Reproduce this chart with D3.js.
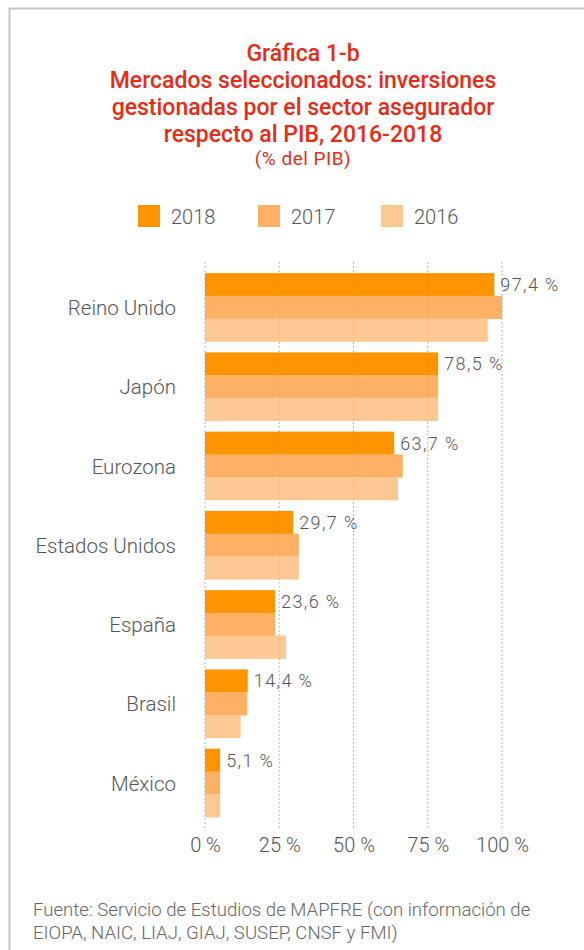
<!DOCTYPE html>
<html>
<head>
<meta charset="utf-8">
<script src="https://cdn.jsdelivr.net/npm/d3@7"></script>
<style>
  body { margin: 0; background: #fff; }
  text { font-family: Roboto, "Noto Sans", sans-serif; }
</style>
</head>
<body>
<script>
// Data
var countries = ["Reino Unido", "Japón", "Eurozona", "Estados Unidos", "España", "Brasil", "México"];
var years = ["2018", "2017", "2016"];
var v2018 = [97.4, 78.5, 63.7, 29.7, 23.6, 14.4, 5.1];
var v2017 = [100.0, 78.5, 66.6, 31.6, 23.6, 14.2, 5.1];
var v2016 = [95.2, 78.5, 65.0, 31.6, 27.3, 12.0, 5.1];
var labels2018 = ["97,4 %", "78,5 %", "63,7 %", "29,7 %", "23,6 %", "14,4 %", "5,1 %"];
var xTicks = [0, 25, 50, 75, 100];
var titleLines = ["Gráfica 1-b", "Mercados seleccionados: inversiones",
                  "gestionadas por el sector asegurador", "respecto al PIB, 2016-2018"];
var subtitle = "(% del PIB)";
var sourceLines = ["Fuente: Servicio de Estudios de MAPFRE (con información de",
                   "EIOPA, NAIC, LIAJ, GIAJ, SUSEP, CNSF y FMI)"];

var colors = {"2018": "#fe9400", "2017": "#feb164", "2016": "#fec892"};
var series = {"2018": v2018, "2017": v2017, "2016": v2016};

var W = 584, H = 950;

var svg = d3.select("body")
    .append("svg")
        .attr("width", W)
        .attr("height", H);

// frame (only left and top edges are visible)
svg.append("rect")
    .attr("x", 9.5).attr("y", 8.5)
    .attr("width", W + 20).attr("height", H + 20)
    .style("fill", "none")
    .style("stroke", "#c4c4c4")
    .style("stroke-width", 2);

// title
var cx = 303;
svg.selectAll(".title")
    .data(titleLines)
  .enter().append("text")
    .attr("class", "title")
    .attr("x", cx)
    .attr("y", function(d, i) { return 61 + i * 27; })
    .style("text-anchor", "middle")
    .style("font-size", "23px")
    .style("font-weight", 500)
    .style("fill", "#ea2a14")
    .text(function(d) { return d; });

svg.append("text")
    .attr("x", cx)
    .attr("y", 165)
    .style("text-anchor", "middle")
    .style("font-size", "19px")
    .style("font-weight", 400)
    .style("letter-spacing", "0.5px")
    .style("fill", "#ea2a14")
    .text(subtitle);

// legend
var legendX = [138, 258, 381];
var legend = svg.selectAll(".legend")
    .data(years)
  .enter().append("g")
    .attr("class", "legend")
    .attr("transform", function(d, i) { return "translate(" + legendX[i] + ",205)"; });

legend.append("rect")
    .attr("width", 22).attr("height", 22)
    .style("fill", function(d) { return colors[d]; });

legend.append("text")
    .attr("x", 33).attr("y", 19)
    .style("font-size", "20px")
    .style("font-weight", 300)
    .style("fill", "#555")
    .text(function(d) { return d; });

// scales
var x = d3.scaleLinear().domain([0, 100]).range([205, 502]);
var y = d3.scaleBand().domain(countries).range([262, 828])
    .paddingInner(0.14).paddingOuter(0.14);
var ySub = d3.scaleBand().domain(years).range([0, y.bandwidth()]);

// grid
svg.append("g")
    .selectAll("line")
    .data(xTicks)
  .enter().append("line")
    .attr("x1", function(d) { return x(d); })
    .attr("x2", function(d) { return x(d); })
    .attr("y1", 262).attr("y2", 828)
    .style("stroke", "#c8c8c8")
    .style("stroke-dasharray", "2,2");

// bars
var groups = svg.selectAll(".group")
    .data(countries)
  .enter().append("g")
    .attr("class", "group")
    .attr("transform", function(d) { return "translate(0," + y(d) + ")"; });

groups.selectAll("rect")
    .data(function(d, i) { return years.map(function(yr) { return {year: yr, value: series[yr][i]}; }); })
  .enter().append("rect")
    .attr("x", x(0))
    .attr("y", function(d) { return ySub(d.year); })
    .attr("width", function(d) { return x(d.value) - x(0); })
    .attr("height", ySub.bandwidth() + 0.5)
    .style("fill", function(d) { return colors[d.year]; });

// grid lines faintly over the bars
svg.append("g")
    .selectAll("line")
    .data(xTicks)
  .enter().append("line")
    .attr("x1", function(d) { return x(d); })
    .attr("x2", function(d) { return x(d); })
    .attr("y1", 262).attr("y2", 828)
    .style("stroke", "#000")
    .style("stroke-opacity", 0.07)
    .style("stroke-dasharray", "2,2");

// value labels for 2018
groups.append("text")
    .attr("x", function(d, i) { return x(v2018[i]) + 6; })
    .attr("y", ySub("2018") + ySub.bandwidth() / 2 + 6.5)
    .style("font-size", "18px")
    .style("font-weight", 300)
    .style("letter-spacing", "1.4px")
    .style("fill", "#555")
    .text(function(d, i) { return labels2018[i]; });

// category axis
var yAxis = d3.axisLeft(y).tickSize(0).tickPadding(0);
var gy = svg.append("g")
    .attr("transform", "translate(176,0)")
    .call(yAxis);
gy.select(".domain").remove();
gy.selectAll("text")
    .attr("dy", "0.38em")
    .style("font-family", "Roboto, sans-serif")
    .style("font-size", "20.5px")
    .style("font-weight", 300)
    .style("fill", "#555");

// value axis
var xAxis = d3.axisBottom(x).tickValues(xTicks).tickSize(0).tickPadding(0)
    .tickFormat(function(d) { return d + " %"; });
var gx = svg.append("g")
    .attr("transform", "translate(0,838)")
    .call(xAxis);
gx.select(".domain").remove();
gx.selectAll("text")
    .attr("dy", "0.71em")
    .style("font-family", "Roboto, sans-serif")
    .style("font-size", "20px")
    .style("font-weight", 300)
    .style("fill", "#555");

// source
svg.selectAll(".source")
    .data(sourceLines)
  .enter().append("text")
    .attr("class", "source")
    .attr("x", 33)
    .attr("y", function(d, i) { return 916 + i * 23; })
    .style("font-size", "18.6px")
    .style("font-weight", 300)
    .style("fill", "#666")
    .text(function(d) { return d; });
</script>
</body>
</html>
